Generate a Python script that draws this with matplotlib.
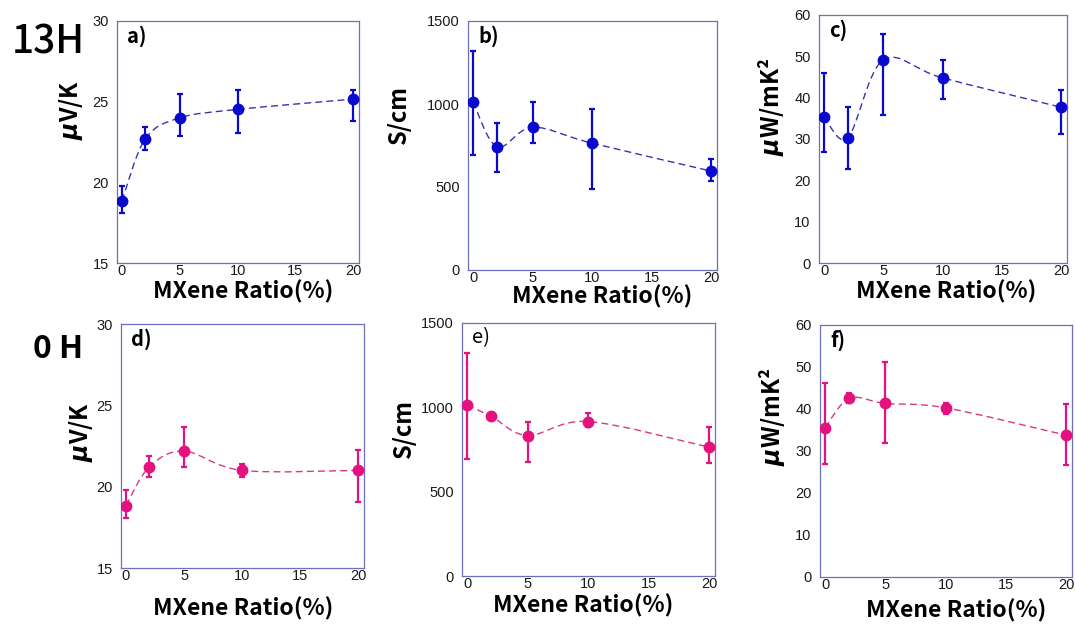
import numpy as np
import matplotlib.pyplot as plt
from matplotlib.path import Path
from matplotlib.patches import PathPatch

plt.rcParams['font.family'] = ['Liberation Sans', 'DejaVu Sans']
plt.rcParams['mathtext.fontset'] = 'custom'
plt.rcParams['mathtext.it'] = 'DejaVu Sans:italic:bold'
plt.rcParams['mathtext.rm'] = 'DejaVu Sans:bold'

CJK = ['Noto Sans CJK JP', 'DejaVu Sans']

mxene_ratio = [0, 2, 5, 10, 20]

# 13H series: value, upper and lower error-bar ends
seebeck_13h = [18.85, 22.68, 24.0, 24.52, 25.16]
seebeck_13h_hi = [19.78, 23.43, 25.5, 25.71, 25.73]
seebeck_13h_lo = [18.13, 22.0, 22.9, 23.06, 23.82]

cond_13h = [1013, 742, 860, 764, 596]
cond_13h_hi = [1318, 884, 1013, 967, 668]
cond_13h_lo = [692, 592, 768, 487, 535]

pf_13h = [35.44, 30.28, 49.13, 44.78, 37.69]
pf_13h_hi = [46.07, 37.85, 55.49, 49.13, 41.96]
pf_13h_lo = [26.9, 22.71, 35.84, 39.7, 31.09]

# 0H series
seebeck_0h = [18.84, 21.21, 22.19, 21.0, 21.0]
seebeck_0h_hi = [19.77, 21.9, 23.69, 21.39, 22.27]
seebeck_0h_lo = [18.08, 20.59, 21.19, 20.59, 19.07]

cond_0h = [1013, 946, 833, 916, 764]
cond_0h_hi = [1320, 962, 913, 964, 883]
cond_0h_lo = [693, 930, 677, 883, 669]

pf_0h = [35.52, 42.52, 41.32, 40.29, 33.77]
pf_0h_hi = [46.17, 43.71, 51.18, 41.4, 41.16]
pf_0h_lo = [27.02, 41.32, 31.87, 38.78, 26.62]

BLUE = '#0A0ACF'
BLUE_LINE = '#3535B0'
PINK = '#E4117F'
PINK_LINE = '#D63A85'
SPINE = '#6E6EBE'

W, H = 1075, 625


def smooth_path(x, y, k=1/6):
    """Bezier curve through the points, like a spreadsheet 'smoothed line'."""
    pts = np.column_stack([x, y]).astype(float)
    ext = np.vstack([pts[0], pts, pts[-1]])
    verts = [pts[0]]
    codes = [Path.MOVETO]
    for i in range(len(pts) - 1):
        p0, p1, p2, p3 = ext[i], ext[i + 1], ext[i + 2], ext[i + 3]
        verts += [p1 + (p2 - p0) * k, p2 - (p3 - p1) * k, p2]
        codes += [Path.CURVE4] * 3
    return Path(verts, codes)


def px_axes(fig, left, top, right, bottom):
    return fig.add_axes([left / W, 1 - bottom / H, (right - left) / W, (bottom - top) / H])


def draw_panel(ax, y, hi, lo, color, line_color, ylim, yticks, tag, tag_xy, tag_weight):
    y = np.asarray(y, float)
    yerr = [y - np.asarray(lo), np.asarray(hi) - y]
    ax.add_patch(PathPatch(smooth_path(mxene_ratio, y), fill=False, edgecolor=line_color,
                           lw=1.0, linestyle=(0, (5, 3)), zorder=2))
    ax.errorbar(mxene_ratio, y, yerr=yerr, fmt='o', color=color, ms=7.5, elinewidth=1.6,
                capsize=2.5, capthick=1.6, zorder=3)
    ax.set_xlim(-0.43, 20.5)
    ax.set_ylim(*ylim)
    ax.set_xticks([0, 5, 10, 15, 20])
    ax.set_yticks(yticks)
    ax.tick_params(length=0, labelsize=10.5, labelcolor='#1a1a1a')
    ax.tick_params(axis='x', pad=1)
    ax.tick_params(axis='y', pad=6)
    for s in ax.spines.values():
        s.set_color(SPINE)
        s.set_linewidth(0.9)
    ax.text(tag_xy[0], tag_xy[1], tag, transform=ax.transAxes, fontsize=14.5,
            fontweight=tag_weight, family=CJK, va='top', ha='left')


fig = plt.figure(figsize=(W / 100, H / 100), dpi=100)

panels = [
    # box (l, t, r, b), data, styling, labels
    ((117, 21, 359, 263), seebeck_13h, seebeck_13h_hi, seebeck_13h_lo, BLUE, BLUE_LINE,
     (15, 30), [15, 20, 25, 30], 'a)', 'bold', r'$\mu$V/K', (78, 110), (243, 298)),
    ((468, 21, 717, 270), cond_13h, cond_13h_hi, cond_13h_lo, BLUE, BLUE_LINE,
     (0, 1500), [0, 500, 1000, 1500], 'b)', 'bold', 'S/cm', (406, 115), (602, 303)),
    ((819, 15, 1067, 263), pf_13h, pf_13h_hi, pf_13h_lo, BLUE, BLUE_LINE,
     (0, 60), list(range(0, 61, 10)), 'c)', 'bold', r'$\mu$W/mK²', (779, 107), (946, 298)),
    ((121, 324, 364, 568), seebeck_0h, seebeck_0h_hi, seebeck_0h_lo, PINK, PINK_LINE,
     (15, 30), [15, 20, 25, 30], 'd)', 'bold', r'$\mu$V/K', (88, 432), (243, 615)),
    ((462, 323, 715, 576), cond_0h, cond_0h_hi, cond_0h_lo, PINK, PINK_LINE,
     (0, 1500), [0, 500, 1000, 1500], 'e)', 'normal', 'S/cm', (411, 429), (583, 612)),
    ((820, 325, 1072, 577), pf_0h, pf_0h_hi, pf_0h_lo, PINK, PINK_LINE,
     (0, 60), list(range(0, 61, 10)), 'f)', 'bold', r'$\mu$W/mK²', (780, 417), (956, 617)),
]

for box, y, hi, lo, col, lcol, ylim, yticks, tag, tw, ylab, ylab_xy, xlab_xy in panels:
    l, t, r, b = box
    ax = px_axes(fig, l, t, r, b)
    draw_panel(ax, y, hi, lo, col, lcol, ylim, yticks, tag,
               (10 / (r - l), 1 - 4 / (b - t)), tw)
    fig.text(xlab_xy[0] / W, 1 - xlab_xy[1] / H, 'MXene Ratio(%)', family=CJK,
             fontsize=16.5, fontweight='bold', ha='center', va='baseline')
    fig.text(ylab_xy[0] / W, 1 - ylab_xy[1] / H, ylab, family=CJK, fontsize=17,
             fontweight='bold', rotation=90, rotation_mode='anchor',
             ha='center', va='baseline')

fig.text(12 / W, 1 - 53 / H, '13H', family=CJK, fontsize=28, fontweight=500,
         ha='left', va='baseline')
fig.text(33 / W, 1 - 358 / H, '0 H', family=CJK, fontsize=23, fontweight='bold',
         ha='left', va='baseline')

fig.savefig('out.png', dpi=100)
